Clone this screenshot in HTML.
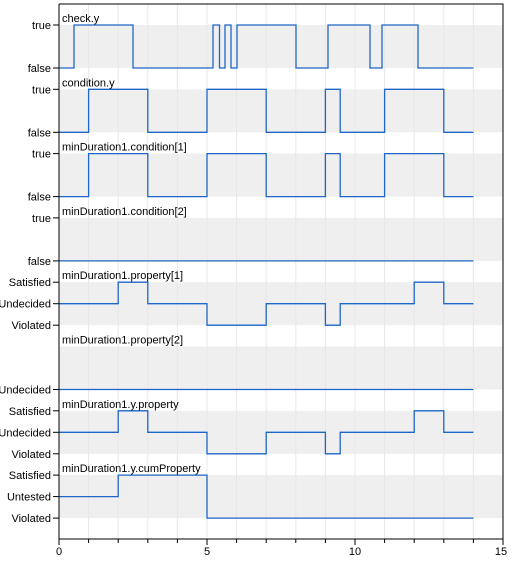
<!DOCTYPE html>
<html><head><meta charset="utf-8"><style>
body{margin:0;background:#fff;}
text{font-family:"Liberation Sans",sans-serif;font-size:11px;fill:#000;}
</style></head><body>
<svg width="512" height="560" xmlns="http://www.w3.org/2000/svg">
<g fill="#efefef">
<rect x="59" y="25" width="444" height="43"/>
<rect x="59" y="89.3" width="444" height="43"/>
<rect x="59" y="153.6" width="444" height="43"/>
<rect x="59" y="217.9" width="444" height="43"/>
<rect x="59" y="282.2" width="444" height="43"/>
<rect x="59" y="346.5" width="444" height="43"/>
<rect x="59" y="410.8" width="444" height="43"/>
<rect x="59" y="475.1" width="444" height="43"/>
</g>
<g stroke="#e8e8e8" stroke-width="1">
<line x1="88.6" y1="4" x2="88.6" y2="539"/><line x1="118.2" y1="4" x2="118.2" y2="539"/>
<line x1="147.8" y1="4" x2="147.8" y2="539"/><line x1="177.4" y1="4" x2="177.4" y2="539"/>
<line x1="207" y1="4" x2="207" y2="539"/><line x1="236.6" y1="4" x2="236.6" y2="539"/>
<line x1="266.2" y1="4" x2="266.2" y2="539"/><line x1="295.8" y1="4" x2="295.8" y2="539"/>
<line x1="325.4" y1="4" x2="325.4" y2="539"/><line x1="355" y1="4" x2="355" y2="539"/>
<line x1="384.6" y1="4" x2="384.6" y2="539"/><line x1="414.2" y1="4" x2="414.2" y2="539"/>
<line x1="443.8" y1="4" x2="443.8" y2="539"/><line x1="473.4" y1="4" x2="473.4" y2="539"/>
</g>
<g fill="none" stroke="#1e66c8" stroke-width="1.3">
<polyline points="59,68 74,68 74,25 133,25 133,68 213,68 213,25 219.5,25 219.5,68 225,68 225,25 231,25 231,68 237,68 237,25 296,25 296,68 328,68 328,25 370,25 370,68 382,68 382,25 418,25 418,68 473.4,68"/>
<polyline points="59,132.3 88.6,132.3 88.6,89.3 147.8,89.3 147.8,132.3 207,132.3 207,89.3 266.2,89.3 266.2,132.3 325.4,132.3 325.4,89.3 340.2,89.3 340.2,132.3 384.6,132.3 384.6,89.3 443.8,89.3 443.8,132.3 473.4,132.3"/>
<polyline points="59,196.6 88.6,196.6 88.6,153.6 147.8,153.6 147.8,196.6 207,196.6 207,153.6 266.2,153.6 266.2,196.6 325.4,196.6 325.4,153.6 340.2,153.6 340.2,196.6 384.6,196.6 384.6,153.6 443.8,153.6 443.8,196.6 473.4,196.6"/>
<polyline points="59,260.9 473.4,260.9"/>
<polyline points="59,303.7 118.2,303.7 118.2,282.2 147.8,282.2 147.8,303.7 207,303.7 207,325.2 266.2,325.2 266.2,303.7 325.4,303.7 325.4,325.2 340.2,325.2 340.2,303.7 414.2,303.7 414.2,282.2 443.8,282.2 443.8,303.7 473.4,303.7"/>
<polyline points="59,389.5 473.4,389.5"/>
<polyline points="59,432.3 118.2,432.3 118.2,410.8 147.8,410.8 147.8,432.3 207,432.3 207,453.8 266.2,453.8 266.2,432.3 325.4,432.3 325.4,453.8 340.2,453.8 340.2,432.3 414.2,432.3 414.2,410.8 443.8,410.8 443.8,432.3 473.4,432.3"/>
<polyline points="59,496.6 118.2,496.6 118.2,475.1 207,475.1 207,518.1 473.4,518.1"/>
</g>
<g stroke="#000" stroke-width="1" fill="none">
<polyline points="59,4 503,4 503,539 59,539 59,4"/>
<line x1="53" y1="25" x2="59" y2="25"/><line x1="53" y1="68" x2="59" y2="68"/>
<line x1="53" y1="89.3" x2="59" y2="89.3"/><line x1="53" y1="132.3" x2="59" y2="132.3"/>
<line x1="53" y1="153.6" x2="59" y2="153.6"/><line x1="53" y1="196.6" x2="59" y2="196.6"/>
<line x1="53" y1="217.9" x2="59" y2="217.9"/><line x1="53" y1="260.9" x2="59" y2="260.9"/>
<line x1="53" y1="282.2" x2="59" y2="282.2"/><line x1="53" y1="303.7" x2="59" y2="303.7"/><line x1="53" y1="325.2" x2="59" y2="325.2"/>
<line x1="53" y1="389.5" x2="59" y2="389.5"/>
<line x1="53" y1="410.8" x2="59" y2="410.8"/><line x1="53" y1="432.3" x2="59" y2="432.3"/><line x1="53" y1="453.8" x2="59" y2="453.8"/>
<line x1="53" y1="475.1" x2="59" y2="475.1"/><line x1="53" y1="496.6" x2="59" y2="496.6"/><line x1="53" y1="518.1" x2="59" y2="518.1"/>
<line x1="59" y1="539" x2="59" y2="545"/><line x1="88.6" y1="539" x2="88.6" y2="543"/><line x1="118.2" y1="539" x2="118.2" y2="543"/>
<line x1="147.8" y1="539" x2="147.8" y2="543"/><line x1="177.4" y1="539" x2="177.4" y2="543"/><line x1="207" y1="539" x2="207" y2="545"/>
<line x1="236.6" y1="539" x2="236.6" y2="543"/><line x1="266.2" y1="539" x2="266.2" y2="543"/><line x1="295.8" y1="539" x2="295.8" y2="543"/>
<line x1="325.4" y1="539" x2="325.4" y2="543"/><line x1="355" y1="539" x2="355" y2="545"/><line x1="384.6" y1="539" x2="384.6" y2="543"/>
<line x1="414.2" y1="539" x2="414.2" y2="543"/><line x1="443.8" y1="539" x2="443.8" y2="543"/><line x1="473.4" y1="539" x2="473.4" y2="543"/>
<line x1="503" y1="539" x2="503" y2="545"/>
</g>
<g text-anchor="end">
<text x="51" y="29">true</text><text x="51" y="72">false</text>
<text x="51" y="93.3">true</text><text x="51" y="136.3">false</text>
<text x="51" y="157.6">true</text><text x="51" y="200.6">false</text>
<text x="51" y="221.9">true</text><text x="51" y="264.9">false</text>
<text x="51" y="286.2">Satisfied</text><text x="51" y="307.7">Undecided</text><text x="51" y="329.2">Violated</text>
<text x="51" y="393.5">Undecided</text>
<text x="51" y="414.8">Satisfied</text><text x="51" y="436.3">Undecided</text><text x="51" y="457.8">Violated</text>
<text x="51" y="479.1">Satisfied</text><text x="51" y="500.6">Untested</text><text x="51" y="522.1">Violated</text>
</g>
<g>
<text x="62" y="22">check.y</text>
<text x="62" y="86.3">condition.y</text>
<text x="62" y="150.6">minDuration1.condition[1]</text>
<text x="62" y="214.9">minDuration1.condition[2]</text>
<text x="62" y="279.2">minDuration1.property[1]</text>
<text x="62" y="343.5">minDuration1.property[2]</text>
<text x="62" y="407.8">minDuration1.y.property</text>
<text x="62" y="472.1">minDuration1.y.cumProperty</text>
</g>
<g text-anchor="middle">
<text x="59" y="555">0</text><text x="207" y="555">5</text><text x="355" y="555">10</text><text x="501" y="555">15</text>
</g>
</svg>
</body></html>
